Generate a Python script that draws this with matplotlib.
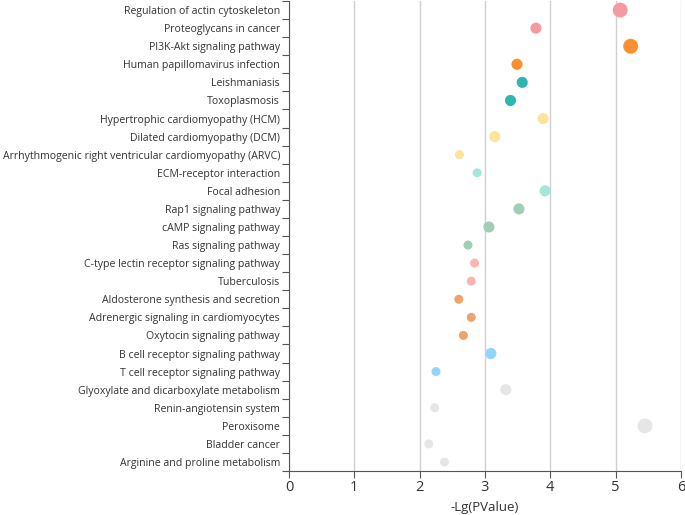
import numpy as np
import matplotlib
matplotlib.use('Agg')
import matplotlib.pyplot as plt
from matplotlib.ticker import FixedLocator, NullFormatter

plt.rcParams['font.family'] = ['Open Sans', 'DejaVu Sans']

pathways = [
    'Regulation of actin cytoskeleton', 'Proteoglycans in cancer', 'PI3K-Akt signaling pathway',
    'Human papillomavirus infection', 'Leishmaniasis', 'Toxoplasmosis',
    'Hypertrophic cardiomyopathy (HCM)', 'Dilated cardiomyopathy (DCM)',
    'Arrhythmogenic right ventricular cardiomyopathy (ARVC)', 'ECM-receptor interaction',
    'Focal adhesion', 'Rap1 signaling pathway', 'cAMP signaling pathway', 'Ras signaling pathway',
    'C-type lectin receptor signaling pathway', 'Tuberculosis',
    'Aldosterone synthesis and secretion', 'Adrenergic signaling in cardiomyocytes',
    'Oxytocin signaling pathway', 'B cell receptor signaling pathway',
    'T cell receptor signaling pathway', 'Glyoxylate and dicarboxylate metabolism',
    'Renin-angiotensin system', 'Peroxisome', 'Bladder cancer', 'Arginine and proline metabolism',
]
neg_log_p = [5.07, 3.78, 5.23, 3.49, 3.57, 3.39, 3.89, 3.15, 2.61, 2.88, 3.92, 3.52, 3.06,
             2.74, 2.84, 2.79, 2.60, 2.79, 2.67, 3.09, 2.25, 3.32, 2.23, 5.45, 2.14, 2.38]
counts = [3, 2, 3, 2, 2, 2, 2, 2, 1, 1, 2, 2, 2, 1, 1, 1, 1, 1, 1, 2, 1, 2, 1, 3, 1, 1]
colors = ['#F29BA0', '#F29BA0', '#FD8F2E', '#FD8F2E', '#2DB7AF', '#2DB7AF',
          '#FCE49C', '#FCE49C', '#FCE49C', '#A5E6D9', '#A5E6D9', '#A2CEB5', '#A2CEB5',
          '#A2CEB5', '#FFB3B3', '#FFB3B3', '#EBA46C', '#EBA46C', '#EBA46C', '#91D5FB',
          '#91D5FB', '#E6E6E6', '#E6E6E6', '#E6E6E6', '#E6E6E6', '#E6E6E6']

size_map = {1: 42, 2: 64, 3: 115}

fig = plt.figure(figsize=(6.85, 5.15), dpi=100)
ax = fig.add_axes([0.4219, 0.0854, 0.5722, 0.9126])

n = len(pathways)
y = np.arange(n)
ax.scatter(neg_log_p, y, s=[size_map[c] for c in counts], c=colors, zorder=3, linewidths=0)

ax.set_xlim(0, 6)
ax.set_ylim(n - 0.5, -0.5)
ax.set_xticks(range(7))
ax.grid(axis='x', color='#D0D0D0', linewidth=1)
ax.set_axisbelow(True)

ax.yaxis.set_major_locator(FixedLocator(np.arange(n + 1) - 0.5))
ax.yaxis.set_major_formatter(NullFormatter())
ax.yaxis.set_minor_locator(FixedLocator(y))
ax.set_yticklabels(pathways, minor=True)
ax.tick_params(axis='y', which='minor', length=0, pad=6.5, labelsize=7.6, labelcolor='#333333')
ax.tick_params(axis='y', which='major', length=5, color='#555555')
ax.tick_params(axis='x', length=5, pad=1.5, color='#555555', labelsize=10.5, labelcolor='#333333')

for s in ['top', 'right']:
    ax.spines[s].set_visible(False)
for s in ['left', 'bottom']:
    ax.spines[s].set_color('#555555')

ax.set_xlabel('-Lg(PValue)', fontsize=9.5, color='#333333', labelpad=4)

fig.savefig('out.png', dpi=100)
